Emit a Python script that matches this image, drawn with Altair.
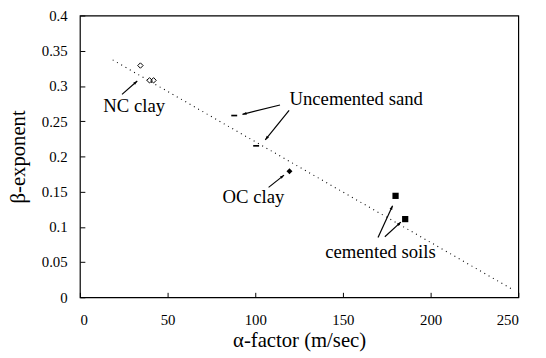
import math
import altair as alt
import pandas as pd

# ---- data ----
nc_x = [34.5, 39.7, 42.0]
nc_y = [0.329, 0.308, 0.308]
unc_x = [88.0, 100.5]
unc_y = [0.258, 0.215]
oc_x = [119.5]
oc_y = [0.179]
cem_x = [180.0, 185.5]
cem_y = [0.144, 0.111]

trend_x = [18.7, 247.5]
trend_y = [0.337, 0.010]

labels = ["NC clay", "Uncemented sand", "OC clay", "cemented soils"]
label_x = [31.0, 119.5, 99.0, 171.4]
label_y = [0.271, 0.281, 0.142, 0.064]
label_align = ["center", "left", "center", "center"]

arrow_x1 = [24.0, 114.1, 119.3, 107.6, 170.0, 173.9]
arrow_y1 = [0.288, 0.273, 0.2653, 0.156, 0.0847, 0.086]
arrow_x2 = [32.7, 92.7, 105.7, 116.4, 178.3, 183.0]
arrow_y2 = [0.307, 0.2597, 0.2234, 0.1734, 0.130, 0.1067]

x_ticks = [0, 50, 100, 150, 200, 250]
y_ticks = [0, 0.05, 0.1, 0.15, 0.2, 0.25, 0.3, 0.35, 0.4]

W, H = 445, 286
FONT = "Liberation Serif, Times New Roman, serif"

xs = alt.Scale(domain=[0, 250], nice=False, zero=False)
ys = alt.Scale(domain=[0, 0.4], nice=False, zero=False)

xax = alt.Axis(values=x_ticks, title="α-factor (m/sec)", grid=False, domain=False,
               tickSize=5, offset=-5, labelPadding=16, tickColor="black",
               labelFont=FONT, labelFontSize=15, labelColor="black",
               titleFont=FONT, titleFontSize=21, titleFontWeight="normal",
               titleColor="black", titlePadding=2)
yax = alt.Axis(values=y_ticks, format="~g", title="β-exponent", grid=False, domain=False,
               tickSize=5, offset=-5, labelPadding=13, tickColor="black",
               labelFont=FONT, labelFontSize=15, labelColor="black",
               titleFont=FONT, titleFontSize=21, titleFontWeight="normal",
               titleColor="black", titlePadding=13)

pts = pd.DataFrame({
    "x": nc_x + unc_x + oc_x + cem_x,
    "y": nc_y + unc_y + oc_y + cem_y,
    "g": ["nc"] * len(nc_x) + ["unc"] * len(unc_x) + ["oc"] * len(oc_x) + ["cem"] * len(cem_x),
})

base_x = alt.X("x:Q", scale=xs, axis=xax)
base_y = alt.Y("y:Q", scale=ys, axis=yax)

trend = alt.Chart(pd.DataFrame({"x": trend_x, "y": trend_y})).mark_line(
    color="black", strokeWidth=1.1, strokeDash=[1, 4]
).encode(x=base_x, y=base_y)

nc = alt.Chart(pts[pts.g == "nc"]).mark_point(
    shape="diamond", size=30, filled=False, color="black", strokeWidth=1, opacity=1
).encode(x=base_x, y=base_y)

unc = alt.Chart(pts[pts.g == "unc"]).mark_point(
    shape="M-1,-0.28H1V0.28H-1Z", size=36, filled=True, color="black", opacity=1
).encode(x=base_x, y=base_y)

oc = alt.Chart(pts[pts.g == "oc"]).mark_point(
    shape="diamond", size=36, filled=True, color="black", opacity=1
).encode(x=base_x, y=base_y)

cem = alt.Chart(pts[pts.g == "cem"]).mark_point(
    shape="square", size=40, filled=True, color="black", opacity=1
).encode(x=base_x, y=base_y)

# arrows
px_x = W / 250.0
px_y = H / 0.4
angles = []
for a, b, c, d in zip(arrow_x1, arrow_y1, arrow_x2, arrow_y2):
    dx = (c - a) * px_x
    dy = -(d - b) * px_y
    angles.append(math.degrees(math.atan2(dy, dx)) % 360)

arr = pd.DataFrame({"x": arrow_x1, "y": arrow_y1, "x2": arrow_x2, "y2": arrow_y2, "ang": angles})

shafts = alt.Chart(arr).mark_rule(color="black", strokeWidth=1.2).encode(
    x=base_x, y=base_y, x2="x2:Q", y2="y2:Q"
)
heads = alt.Chart(arr).mark_point(
    shape="M0,0L-1,-0.35L-1,0.35Z", size=70, filled=True, color="black", opacity=1
).encode(
    x=alt.X("x2:Q", scale=xs, axis=xax),
    y=alt.Y("y2:Q", scale=ys, axis=yax),
    angle=alt.Angle("ang:Q", scale=None),
)

lab = pd.DataFrame({"t": labels, "x": label_x, "y": label_y, "a": label_align})
texts = []
for al in ["center", "left"]:
    texts.append(
        alt.Chart(lab[lab.a == al]).mark_text(
            font=FONT, fontSize=19, color="black", align=al, baseline="middle"
        ).encode(x=base_x, y=base_y, text="t:N")
    )

chart = alt.layer(trend, nc, unc, oc, cem, shafts, heads, *texts).properties(
    width=W, height=H,
    autosize=alt.AutoSizeParams(type="none"),
    padding={"left": 73, "top": 5, "right": 20, "bottom": 59},
).configure(background="white", font=FONT).configure_view(
    stroke="black", strokeWidth=1.2
).configure_axis(labelFont=FONT, titleFont=FONT).configure_text(font=FONT)

chart.save("out.html", embed_options={"renderer": "svg", "actions": False})
